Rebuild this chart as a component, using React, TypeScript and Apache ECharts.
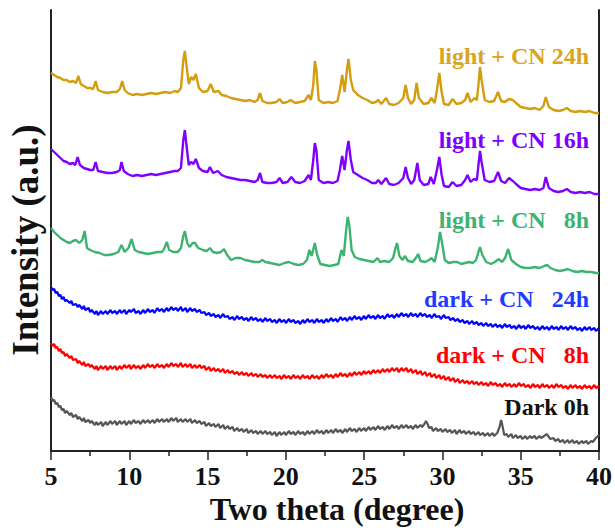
import React, { useEffect, useRef } from "react";
import * as echarts from "echarts";

const xTicks = [5, 10, 15, 20, 25, 30, 35, 40];

const labelNames = ["light + CN 24h", "light + CN 16h", "light + CN   8h", "dark + CN   24h", "dark + CN   8h", "Dark 0h"];

const light24h: [number, number][] = [
  [5.0,378],[5.2,376],[5.4,374],[5.6,373],[5.8,371],[6.0,371],[6.2,369],[6.4,370],[6.6,368],[6.75,375],[6.9,367],[7.1,365],[7.3,363],[7.5,363],[7.7,362],[7.85,370],[8.0,361],[8.3,359],[8.6,358],[8.9,359],[9.2,359],[9.4,362],[9.55,370],[9.7,361],[9.9,358],[10.2,356],[10.5,357],[10.8,356],[11.1,357],[11.4,358],[11.7,357],[12.0,358],[12.3,359],[12.6,358],[12.9,360],[13.1,359],[13.3,363],[13.45,391],[13.55,400],[13.65,386],[13.8,367],[13.95,374],[14.1,371],[14.25,377],[14.45,363],[14.7,359],[15.0,360],[15.2,367],[15.4,359],[15.7,360],[15.9,356],[16.2,355],[16.5,353],[16.8,352],[17.1,351],[17.4,350],[17.7,351],[18.0,349],[18.2,351],[18.35,358],[18.5,350],[18.8,348],[19.1,348],[19.4,349],[19.6,352],[19.8,348],[20.1,349],[20.3,351],[20.6,348],[20.9,349],[21.2,350],[21.45,356],[21.6,351],[21.75,366],[21.85,390],[21.95,381],[22.1,351],[22.4,348],[22.7,349],[23.0,348],[23.3,350],[23.45,361],[23.6,376],[23.75,359],[23.9,381],[24.0,392],[24.15,371],[24.3,361],[24.6,356],[24.9,353],[25.2,351],[25.5,348],[25.75,349],[25.9,351],[26.1,347],[26.4,353],[26.6,347],[26.9,346],[27.2,348],[27.5,353],[27.65,366],[27.8,353],[28.0,347],[28.2,351],[28.35,368],[28.5,353],[28.8,347],[29.1,348],[29.3,353],[29.5,348],[29.65,361],[29.8,378],[29.95,359],[30.1,347],[30.4,346],[30.65,352],[30.9,347],[31.2,348],[31.45,351],[31.6,358],[31.8,349],[32.05,353],[32.2,351],[32.3,366],[32.4,384],[32.5,371],[32.7,351],[33.0,349],[33.3,350],[33.55,359],[33.75,350],[34.0,349],[34.25,352],[34.5,351],[34.7,348],[35.0,344],[35.3,343],[35.6,342],[35.9,343],[36.2,341],[36.45,345],[36.6,354],[36.8,344],[37.1,341],[37.4,340],[37.7,341],[37.95,343],[38.2,340],[38.5,339],[38.8,340],[39.1,339],[39.4,340],[39.7,338],[40.0,338]
];

const light16h: [number, number][] = [
  [5.0,302],[5.2,299],[5.4,296],[5.6,293],[5.8,290],[6.0,289],[6.2,287],[6.4,288],[6.55,286],[6.7,294],[6.85,286],[7.1,283],[7.3,282],[7.5,281],[7.7,281],[7.85,289],[8.0,280],[8.3,279],[8.6,278],[8.9,278],[9.2,279],[9.4,281],[9.5,289],[9.65,280],[9.9,277],[10.2,275],[10.5,276],[10.8,275],[11.1,276],[11.4,277],[11.7,276],[12.0,277],[12.3,278],[12.6,279],[12.9,280],[13.1,280],[13.3,283],[13.45,311],[13.55,321],[13.65,306],[13.8,286],[13.95,289],[14.1,287],[14.25,292],[14.45,283],[14.7,280],[15.0,279],[15.15,284],[15.35,278],[15.65,280],[15.9,276],[16.2,274],[16.5,273],[16.8,272],[17.1,271],[17.4,271],[17.7,270],[18.0,269],[18.2,271],[18.35,278],[18.5,269],[18.8,268],[19.1,268],[19.4,269],[19.6,273],[19.8,268],[20.1,269],[20.35,274],[20.6,269],[20.9,268],[21.2,270],[21.45,276],[21.6,271],[21.75,291],[21.85,308],[21.95,301],[22.1,271],[22.4,268],[22.7,269],[23.0,268],[23.3,270],[23.45,281],[23.6,295],[23.75,281],[23.9,301],[24.0,310],[24.15,291],[24.3,279],[24.6,276],[24.9,273],[25.2,271],[25.5,268],[25.75,268],[25.9,271],[26.1,267],[26.4,273],[26.6,267],[26.9,266],[27.2,268],[27.5,273],[27.65,284],[27.8,273],[28.0,267],[28.2,271],[28.4,288],[28.55,271],[28.8,266],[29.1,267],[29.25,274],[29.45,267],[29.65,281],[29.8,294],[29.95,276],[30.1,265],[30.4,264],[30.65,269],[30.9,265],[31.2,266],[31.45,271],[31.6,276],[31.8,269],[32.0,272],[32.2,271],[32.3,286],[32.4,300],[32.5,289],[32.7,271],[33.0,269],[33.3,270],[33.55,279],[33.75,270],[34.0,268],[34.25,273],[34.5,270],[34.7,267],[35.0,263],[35.3,262],[35.6,261],[35.9,262],[36.2,261],[36.45,263],[36.6,274],[36.8,263],[37.1,260],[37.4,259],[37.7,260],[37.95,262],[38.2,259],[38.5,258],[38.8,259],[39.1,258],[39.4,259],[39.7,257],[40.0,257]
];

const light8h: [number, number][] = [
  [5.0,223],[5.2,219],[5.4,216],[5.6,213],[5.8,211],[6.0,209],[6.2,208],[6.4,210],[6.6,211],[6.8,208],[7.0,211],[7.15,220],[7.3,203],[7.5,201],[7.8,199],[8.1,198],[8.4,196],[8.7,196],[9.0,197],[9.3,199],[9.5,206],[9.7,199],[9.95,203],[10.15,212],[10.35,201],[10.6,199],[10.9,198],[11.2,197],[11.5,198],[11.8,199],[12.1,199],[12.25,203],[12.4,209],[12.55,201],[12.8,199],[13.1,199],[13.3,203],[13.45,215],[13.55,220],[13.7,208],[13.85,204],[14.05,208],[14.2,208],[14.4,203],[14.7,201],[14.95,200],[15.15,203],[15.35,199],[15.6,198],[15.85,199],[16.05,202],[16.25,196],[16.5,191],[16.8,193],[17.1,193],[17.4,191],[17.7,190],[18.0,189],[18.3,189],[18.5,191],[18.7,189],[19.0,188],[19.3,187],[19.6,186],[19.9,188],[20.2,189],[20.5,187],[20.8,186],[21.1,187],[21.35,191],[21.5,201],[21.65,195],[21.85,208],[22.0,196],[22.2,187],[22.5,186],[22.8,185],[23.1,186],[23.35,187],[23.55,201],[23.7,195],[23.85,221],[23.95,234],[24.05,226],[24.2,201],[24.4,194],[24.7,192],[25.0,191],[25.3,190],[25.6,189],[25.85,193],[26.0,189],[26.3,190],[26.6,189],[26.85,193],[27.0,203],[27.1,208],[27.25,195],[27.45,191],[27.6,195],[27.8,190],[28.1,189],[28.3,193],[28.45,197],[28.6,190],[28.9,189],[29.15,191],[29.3,193],[29.5,189],[29.7,203],[29.85,219],[30.0,206],[30.15,191],[30.4,188],[30.7,189],[30.95,189],[31.2,187],[31.45,188],[31.7,189],[31.95,188],[32.15,191],[32.3,199],[32.4,204],[32.55,196],[32.8,189],[33.1,187],[33.35,189],[33.6,192],[33.8,189],[34.0,193],[34.2,202],[34.4,191],[34.7,187],[35.0,184],[35.3,183],[35.6,183],[35.9,184],[36.2,183],[36.5,185],[36.7,186],[36.9,183],[37.2,181],[37.5,180],[37.8,181],[38.0,182],[38.3,180],[38.6,179],[38.9,180],[39.2,179],[39.5,179],[39.8,178],[40.0,178]
];

const dark24h: [number, number][] = [
  [5.0,164],[5.1,161],[5.2,162],[5.3,158],[5.4,159],[5.5,155],[5.6,156],[5.7,152],[5.8,154],[5.9,150],[6.0,151],[6.2,148],[6.3,150],[6.4,146],[6.6,147],[6.7,144],[6.8,146],[7.0,142],[7.1,145],[7.2,141],[7.4,143],[7.5,139],[7.6,141],[7.8,137],[7.9,140],[8.0,136],[8.2,140],[8.3,137],[8.5,140],[8.6,137],[8.8,141],[8.9,138],[9.1,140],[9.2,137],[9.4,141],[9.5,138],[9.7,141],[9.8,137],[10.0,141],[10.1,139],[10.3,142],[10.4,138],[10.6,140],[10.7,137],[10.9,141],[11.0,138],[11.2,142],[11.3,139],[11.5,141],[11.6,138],[11.8,143],[11.9,140],[12.1,142],[12.2,139],[12.4,143],[12.5,140],[12.7,144],[12.8,141],[13.0,143],[13.1,140],[13.3,144],[13.4,140],[13.6,143],[13.7,139],[13.9,143],[14.0,140],[14.2,142],[14.3,139],[14.5,141],[14.6,138],[14.8,139],[14.9,136],[15.1,138],[15.2,135],[15.4,137],[15.5,134],[15.7,136],[15.8,133],[16.0,137],[16.1,134],[16.3,135],[16.4,132],[16.6,134],[16.7,131],[16.9,135],[17.0,132],[17.2,134],[17.3,131],[17.5,133],[17.6,130],[17.8,134],[17.9,131],[18.1,133],[18.2,130],[18.4,132],[18.5,129],[18.7,133],[18.8,130],[19.0,132],[19.1,129],[19.3,131],[19.4,128],[19.6,132],[19.7,129],[19.9,131],[20.0,128],[20.2,132],[20.3,129],[20.5,131],[20.6,128],[20.8,130],[20.9,127],[21.1,131],[21.2,128],[21.4,132],[21.5,129],[21.7,131],[21.8,128],[22.0,132],[22.1,129],[22.3,131],[22.4,128],[22.6,132],[22.7,129],[22.9,133],[23.0,130],[23.2,132],[23.3,129],[23.5,134],[23.6,131],[23.8,133],[23.9,130],[24.1,134],[24.2,131],[24.4,135],[24.5,132],[24.7,134],[24.8,131],[25.0,135],[25.1,132],[25.3,136],[25.4,133],[25.6,135],[25.7,132],[25.9,136],[26.0,133],[26.2,135],[26.3,132],[26.5,137],[26.6,134],[26.8,136],[26.9,133],[27.1,137],[27.2,134],[27.4,138],[27.5,135],[27.7,137],[27.8,134],[28.0,138],[28.1,135],[28.3,137],[28.4,134],[28.6,138],[28.7,135],[28.9,137],[29.0,134],[29.2,136],[29.3,133],[29.5,137],[29.6,134],[29.8,135],[29.9,132],[30.1,136],[30.2,133],[30.4,134],[30.5,131],[30.7,133],[30.8,130],[31.0,132],[31.1,129],[31.3,131],[31.4,128],[31.6,130],[31.7,127],[31.9,130],[32.0,127],[32.2,129],[32.3,126],[32.5,128],[32.6,125],[32.8,128],[32.9,125],[33.1,127],[33.2,124],[33.4,127],[33.5,124],[33.7,126],[33.8,123],[34.0,127],[34.1,124],[34.3,126],[34.4,123],[34.6,125],[34.7,122],[34.9,126],[35.0,123],[35.2,125],[35.3,122],[35.5,126],[35.6,123],[35.8,125],[35.9,122],[36.1,124],[36.2,121],[36.4,125],[36.5,122],[36.7,124],[36.8,121],[37.0,125],[37.1,122],[37.3,124],[37.4,121],[37.6,125],[37.7,122],[37.9,124],[38.0,121],[38.2,125],[38.3,122],[38.5,124],[38.6,121],[38.8,123],[38.9,120],[39.1,124],[39.2,121],[39.4,124],[39.5,121],[39.7,123],[39.8,120],[40.0,123]
];

const dark8h: [number, number][] = [
  [5.0,108],[5.1,105],[5.2,107],[5.3,103],[5.4,104],[5.5,100],[5.6,102],[5.7,98],[5.8,99],[5.9,95],[6.0,97],[6.2,93],[6.3,95],[6.4,91],[6.6,92],[6.7,88],[6.8,90],[7.0,86],[7.1,89],[7.2,85],[7.4,87],[7.5,84],[7.6,86],[7.8,82],[7.9,85],[8.0,81],[8.2,85],[8.3,82],[8.5,85],[8.6,81],[8.8,85],[8.9,82],[9.1,85],[9.2,81],[9.4,85],[9.5,82],[9.7,86],[9.8,83],[10.0,86],[10.1,82],[10.3,86],[10.4,83],[10.6,85],[10.7,82],[10.9,86],[11.0,83],[11.2,87],[11.3,84],[11.5,86],[11.6,83],[11.8,87],[11.9,84],[12.1,86],[12.2,83],[12.4,87],[12.5,84],[12.7,88],[12.8,85],[13.0,87],[13.1,84],[13.3,88],[13.4,84],[13.6,87],[13.7,84],[13.9,87],[14.0,83],[14.2,86],[14.3,83],[14.5,86],[14.6,83],[14.8,85],[14.9,81],[15.1,84],[15.2,80],[15.4,83],[15.5,80],[15.7,82],[15.8,79],[16.0,82],[16.1,78],[16.3,81],[16.4,78],[16.6,80],[16.7,77],[16.9,79],[17.0,76],[17.2,79],[17.3,76],[17.5,78],[17.6,75],[17.8,78],[17.9,75],[18.1,77],[18.2,74],[18.4,77],[18.5,74],[18.7,76],[18.8,73],[19.0,76],[19.1,73],[19.3,76],[19.4,73],[19.6,75],[19.7,72],[19.9,76],[20.0,73],[20.2,75],[20.3,72],[20.5,76],[20.6,73],[20.8,75],[20.9,72],[21.1,76],[21.2,73],[21.4,75],[21.5,72],[21.7,76],[21.8,73],[22.0,75],[22.1,72],[22.3,76],[22.4,73],[22.6,77],[22.7,74],[22.9,76],[23.0,73],[23.2,77],[23.3,74],[23.5,78],[23.6,75],[23.8,77],[23.9,74],[24.1,78],[24.2,75],[24.4,79],[24.5,76],[24.7,79],[24.8,76],[25.0,80],[25.1,77],[25.3,80],[25.4,77],[25.6,81],[25.7,78],[25.9,81],[26.0,78],[26.2,82],[26.3,79],[26.5,82],[26.6,79],[26.8,83],[26.9,80],[27.1,83],[27.2,79],[27.4,83],[27.5,80],[27.7,83],[27.8,79],[28.0,82],[28.1,78],[28.3,81],[28.4,77],[28.6,80],[28.7,76],[28.9,79],[29.0,75],[29.2,78],[29.3,74],[29.5,77],[29.6,73],[29.8,76],[29.9,72],[30.1,75],[30.2,71],[30.4,74],[30.5,70],[30.7,73],[30.8,69],[31.0,72],[31.1,68],[31.3,71],[31.4,68],[31.6,70],[31.7,67],[31.9,70],[32.0,67],[32.2,69],[32.3,66],[32.5,69],[32.6,66],[32.8,68],[32.9,65],[33.1,69],[33.2,66],[33.4,68],[33.5,65],[33.7,67],[33.8,64],[34.0,68],[34.1,65],[34.3,67],[34.4,64],[34.6,67],[34.7,64],[34.9,68],[35.0,65],[35.2,67],[35.3,64],[35.5,66],[35.6,63],[35.8,67],[35.9,64],[36.1,66],[36.2,63],[36.4,67],[36.5,64],[36.7,66],[36.8,63],[37.0,66],[37.1,63],[37.3,67],[37.4,64],[37.6,66],[37.7,63],[37.9,65],[38.0,62],[38.2,66],[38.3,63],[38.5,66],[38.6,63],[38.8,65],[38.9,62],[39.1,66],[39.2,63],[39.4,65],[39.5,62],[39.7,66],[39.8,63],[40.0,65]
];

const dark0h: [number, number][] = [
  [5.0,54],[5.1,50],[5.2,51],[5.3,47],[5.4,48],[5.5,44],[5.6,45],[5.7,41],[5.8,42],[5.9,38],[6.0,40],[6.2,36],[6.3,38],[6.4,34],[6.6,36],[6.7,32],[6.8,34],[7.0,30],[7.1,33],[7.2,29],[7.4,31],[7.5,28],[7.6,30],[7.8,26],[7.9,29],[8.0,26],[8.2,29],[8.3,25],[8.5,29],[8.6,26],[8.8,30],[8.9,27],[9.1,30],[9.2,26],[9.4,30],[9.5,27],[9.7,30],[9.8,26],[10.0,30],[10.1,27],[10.3,31],[10.4,28],[10.6,30],[10.7,27],[10.9,31],[11.0,28],[11.2,31],[11.3,28],[11.5,31],[11.6,28],[11.8,32],[11.9,29],[12.1,32],[12.2,29],[12.4,32],[12.5,29],[12.7,33],[12.8,30],[13.0,33],[13.1,29],[13.3,32],[13.4,29],[13.6,32],[13.7,29],[13.9,32],[14.0,28],[14.2,31],[14.3,28],[14.5,30],[14.6,27],[14.8,29],[14.9,25],[15.1,28],[15.2,25],[15.4,27],[15.5,24],[15.7,27],[15.8,23],[16.0,26],[16.1,22],[16.3,25],[16.4,22],[16.6,24],[16.7,20],[16.9,23],[17.0,20],[17.2,22],[17.3,19],[17.5,22],[17.6,18],[17.8,21],[17.9,18],[18.1,20],[18.2,17],[18.4,20],[18.5,17],[18.7,20],[18.8,17],[19.0,19],[19.1,16],[19.3,19],[19.4,15],[19.6,19],[19.7,16],[19.9,19],[20.0,16],[20.2,20],[20.3,17],[20.5,19],[20.6,16],[20.8,20],[20.9,17],[21.1,19],[21.2,16],[21.4,20],[21.5,17],[21.7,20],[21.8,17],[22.0,21],[22.1,18],[22.3,20],[22.4,17],[22.6,21],[22.7,18],[22.9,21],[23.0,18],[23.2,22],[23.3,19],[23.5,21],[23.6,18],[23.8,22],[23.9,19],[24.1,23],[24.2,20],[24.4,22],[24.5,19],[24.7,23],[24.8,20],[25.0,23],[25.1,20],[25.3,24],[25.4,21],[25.6,24],[25.7,21],[25.9,25],[26.0,22],[26.2,24],[26.3,21],[26.5,25],[26.6,22],[26.8,26],[26.9,23],[27.1,25],[27.2,22],[27.4,26],[27.5,23],[27.7,26],[27.8,23],[28.0,25],[28.1,22],[28.3,26],[28.4,23],[28.6,26],[28.7,24],[28.85,27],[28.95,30],[29.05,27],[29.15,23],[29.3,24],[29.4,20],[29.6,23],[29.7,20],[29.9,22],[30.0,19],[30.2,22],[30.3,19],[30.5,21],[30.6,18],[30.8,21],[30.9,17],[31.1,21],[31.2,18],[31.4,20],[31.5,17],[31.7,20],[31.8,17],[32.0,19],[32.1,16],[32.3,19],[32.4,16],[32.6,18],[32.7,15],[32.9,18],[33.0,15],[33.2,18],[33.3,15],[33.5,18],[33.65,24],[33.75,31],[33.85,24],[33.95,16],[34.1,17],[34.2,14],[34.4,17],[34.5,13],[34.7,16],[34.8,13],[35.0,15],[35.1,12],[35.3,15],[35.4,12],[35.6,15],[35.7,13],[35.9,15],[36.0,12],[36.2,15],[36.3,13],[36.5,15],[36.65,17],[36.8,14],[36.9,12],[37.1,13],[37.2,10],[37.4,12],[37.5,9],[37.7,11],[37.8,8],[38.0,11],[38.1,8],[38.3,11],[38.4,8],[38.6,10],[38.7,7],[38.9,10],[39.0,8],[39.2,10],[39.3,7],[39.5,10],[39.6,9],[39.8,13],[40.0,16]
];

const seriesData = [light24h, light16h, light8h, dark24h, dark8h, dark0h];
const lineColors = ["#D49D0D", "#8000FF", "#3CB371", "#0000FF", "#FF0000", "#555555"];
const labelColors = ["#D9A520", "#8000FF", "#3CB371", "#1E3CFF", "#FF0000", "#111111"];
const lineWidths = [2.4, 2.4, 2.4, 2.2, 2.2, 2.2];
const labelY = [56, 140, 220, 299, 355, 407];

const FONT = '"Liberation Serif", "Times New Roman", serif';

export default function App() {
  const ref = useRef<HTMLDivElement>(null);
  useEffect(() => {
    if (!ref.current) return;
    const chart = echarts.init(ref.current, undefined, { renderer: "svg" });
    const axisLineStyle = { color: "#222", width: 2 };
    chart.setOption({
      animation: false,
      backgroundColor: "#fff",
      grid: { left: 51, right: 16, top: 10, bottom: 79 },
      xAxis: [
        {
          type: "value",
          min: xTicks[0],
          max: xTicks[xTicks.length - 1],
          interval: 5,
          position: "bottom",
          axisLine: { show: true, lineStyle: axisLineStyle },
          axisTick: { show: true, inside: false, length: 9, lineStyle: { color: "#222", width: 1.5 } },
          minorTick: { show: true, splitNumber: 2, length: 5, lineStyle: { color: "#222", width: 1.5 } },
          axisLabel: { fontFamily: FONT, fontWeight: "bold", fontSize: 26, color: "#111", margin: 12 },
          splitLine: { show: false },
        },
        {
          type: "value",
          min: xTicks[0],
          max: xTicks[xTicks.length - 1],
          position: "top",
          axisLine: { show: true, lineStyle: axisLineStyle },
          axisTick: { show: false },
          axisLabel: { show: false },
          splitLine: { show: false },
        },
      ],
      yAxis: [
        {
          type: "value",
          min: 0,
          max: 441,
          position: "left",
          axisLine: { show: true, lineStyle: axisLineStyle },
          axisTick: { show: false },
          axisLabel: { show: false },
          splitLine: { show: false },
        },
        {
          type: "value",
          min: 0,
          max: 441,
          position: "right",
          axisLine: { show: true, lineStyle: axisLineStyle },
          axisTick: { show: false },
          axisLabel: { show: false },
          splitLine: { show: false },
        },
      ],
      series: seriesData.map((d, i) => ({
        name: labelNames[i],
        type: "line",
        data: d,
        showSymbol: false,
        symbol: "none",
        lineStyle: { color: lineColors[i], width: lineWidths[i] },
        z: 2,
      })),
      graphic: [
        ...labelNames.map((t, i) => ({
          type: "text",
          x: 589,
          y: labelY[i],
          style: {
            text: t,
            fill: labelColors[i],
            font: `bold 24px ${FONT}`,
            textAlign: "right",
            textVerticalAlign: "middle",
          },
        })),
        {
          type: "text",
          x: 337,
          y: 509,
          style: {
            text: "Two theta (degree)",
            fill: "#111",
            font: `bold 32px ${FONT}`,
            textAlign: "center",
            textVerticalAlign: "middle",
          },
        },
        {
          type: "text",
          x: 25,
          y: 240,
          rotation: Math.PI / 2,
          style: {
            text: "Intensity (a.u.)",
            fill: "#111",
            font: `bold 37px ${FONT}`,
            textAlign: "center",
            textVerticalAlign: "middle",
          },
        },
      ],
    });
    return () => chart.dispose();
  }, []);
  return <div ref={ref} style={{ position: "absolute", left: 0, top: 0, width: 615, height: 530 }} />;
}
